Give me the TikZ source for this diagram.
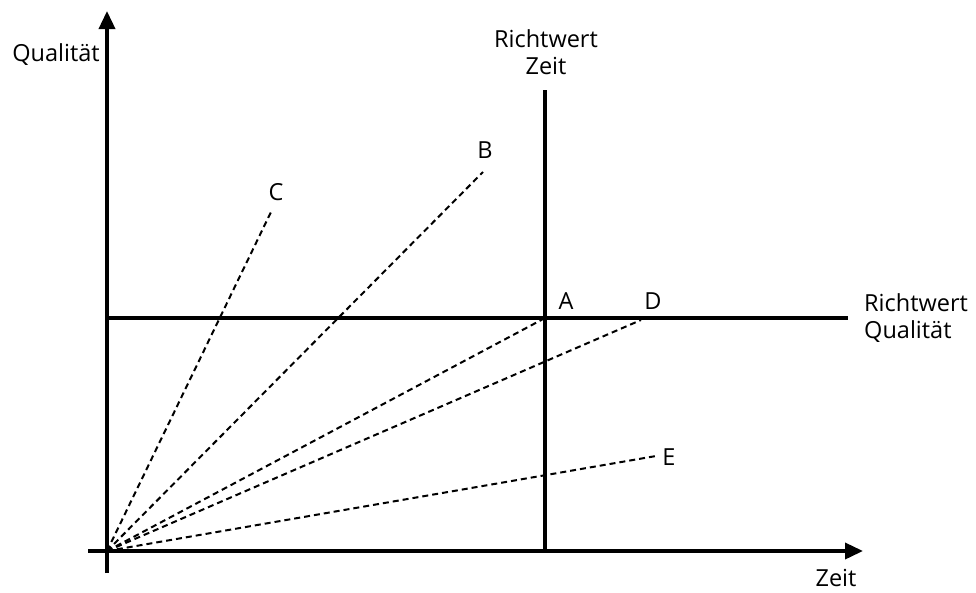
\documentclass[tikz,border=0pt]{standalone}
\usepackage{fontspec}
\setmainfont{Open Sans}
\usetikzlibrary{arrows.meta}
\begin{document}
\begin{tikzpicture}[x=1pt,y=-1pt,
  axis/.style={line width=3.6pt,-{Triangle[length=18pt,width=16pt]}},
  guide/.style={line width=3.6pt},
  ray/.style={line width=2pt,dash pattern=on 6pt off 4pt},
  lbl/.style={font=\fontsize{23.5}{27}\selectfont,inner sep=0pt}]
\useasboundingbox (0,0) rectangle (976,592);
\coordinate (O) at (107,551);
\coordinate (ybot) at (107,573);
\coordinate (ytop) at (107,11);
\coordinate (xleft) at (88,551);
\coordinate (xright) at (863,551);
\coordinate (vtop) at (545,90);
\coordinate (vbot) at (545,553);
\coordinate (hleft) at (107,318);
\coordinate (hright) at (848,318);
\coordinate (Ce) at (271,212);
\coordinate (Be) at (483,172);
\coordinate (Ae) at (545,318);
\coordinate (De) at (641,320);
\coordinate (Ee) at (656,456);
\draw[axis] (ybot) -- (ytop);
\draw[axis] (xleft) -- (xright);
\draw[guide] (vtop) -- (vbot);
\draw[guide] (hleft) -- (hright);
\foreach \e in {Ce,Be,Ae,De,Ee} \draw[ray] (O) -- (\e);
\node[lbl] (lq) at (56,55) {Qualität};
\node[lbl] (lz) at (836,578) {Zeit};
\node[lbl,align=center] (lrz) at (546,52) {Richtwert\\Zeit};
\node[lbl,align=left,anchor=west] (lrq) at (864,318) {Richtwert\\Qualität};
\node[lbl] (lC) at (276,192) {C};
\node[lbl] (lB) at (485,150) {B};
\node[lbl] (lA) at (566,301) {A};
\node[lbl] (lD) at (653,301) {D};
\node[lbl] (lE) at (669,457) {E};
\end{tikzpicture}
\end{document}
